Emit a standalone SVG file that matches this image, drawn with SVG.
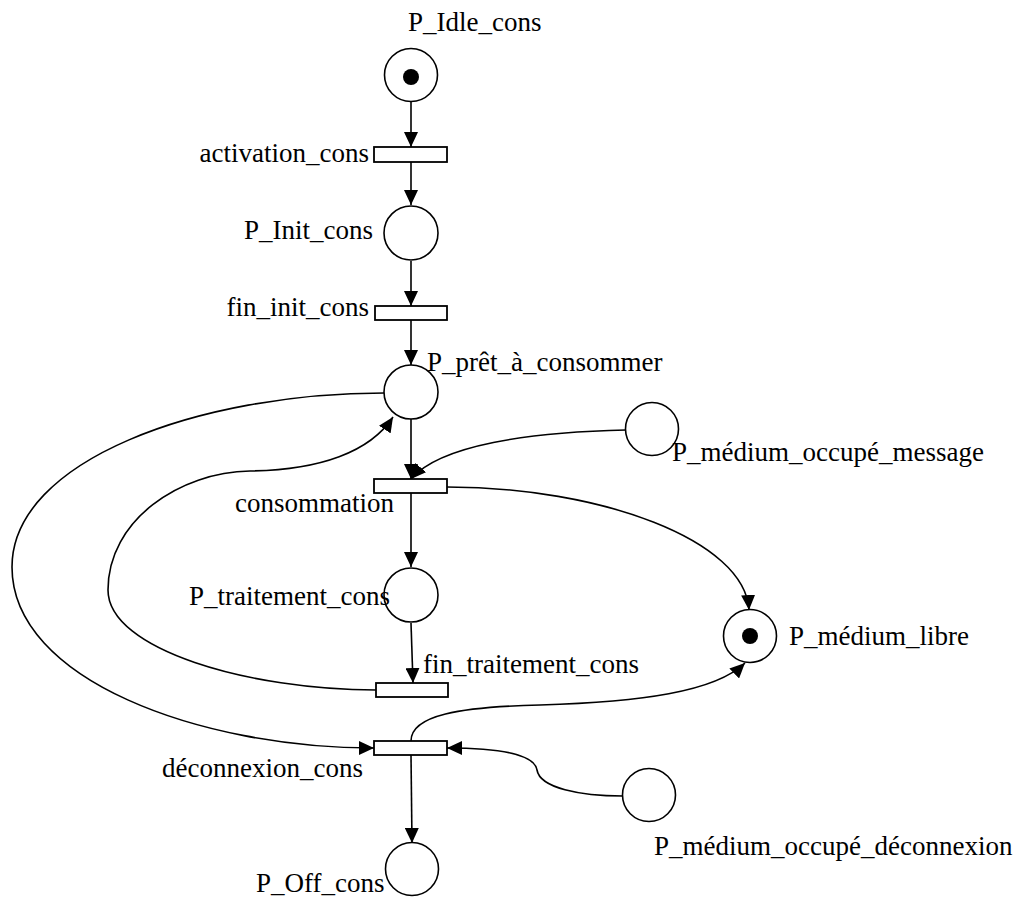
<svg xmlns="http://www.w3.org/2000/svg" width="1021" height="906" viewBox="0 0 1021 906">
  <style>
    .place { fill: #ffffff; stroke: #000000; stroke-width: 1.6; }
    .token { fill: #000000; }
    .trans { fill: #ffffff; stroke: #000000; stroke-width: 1.8; }
    .arc { fill: none; stroke: #000000; stroke-width: 1.6; }
    .arrow { marker-end: url(#head); }
    .label { font-family: "Liberation Serif", "DejaVu Serif", "Times New Roman", serif; font-size: 27px; fill: #000000; }
  </style>
  <defs>
    <marker id="head" markerUnits="userSpaceOnUse" markerWidth="16" markerHeight="14" refX="15" refY="7" orient="auto">
      <path d="M0,0 L15,7 L0,14 Z" fill="#000000"/>
    </marker>
  </defs>

  <rect width="1021" height="906" fill="#ffffff"/>

  <!-- arcs between places and transitions -->
  <g id="connectors">
    <line class="arc arrow" x1="411" y1="101" x2="411" y2="147"/>
    <line class="arc arrow" x1="411" y1="162" x2="411" y2="205"/>
    <line class="arc arrow" x1="411" y1="261" x2="411" y2="306"/>
    <line class="arc arrow" x1="411" y1="320" x2="411" y2="365"/>
    <line class="arc arrow" x1="411" y1="419" x2="411" y2="479"/>
    <line class="arc arrow" x1="411" y1="493" x2="411" y2="567"/>
    <line class="arc arrow" x1="411" y1="623" x2="413" y2="683"/>
    <line class="arc arrow" x1="411" y1="755" x2="412" y2="843"/>
    <!-- P_prêt_à_consommer to déconnexion_cons -->
    <path class="arc arrow" d="M384,393 C200,393 12,460 12,567 C12,680 200,748 374,748"/>
    <!-- fin_traitement_cons back to P_prêt_à_consommer -->
    <path class="arc arrow" d="M376,690 C250,690 108,650 108,590 C108,520 180,472 250,471 C320,470 370,452 393,417"/>
    <!-- P_médium_occupé_message to consommation -->
    <path class="arc arrow" d="M626,430 C530,432 440,445 411,479"/>
    <!-- consommation to P_médium_libre -->
    <path class="arc arrow" d="M447,487 C600,487 745,540 749,610"/>
    <!-- déconnexion_cons to P_médium_libre -->
    <path class="arc arrow" d="M411,741 C411,715 460,707 540,705 C640,702 715,692 745,663"/>
    <!-- P_médium_occupé_déconnexion to déconnexion_cons -->
    <path class="arc arrow" d="M623,796 C580,796 540,788 537,770 C534,752 490,748 447,748"/>
  </g>

  <g id="P_Idle_cons">
    <circle class="place" cx="411" cy="75" r="26.5"/>
    <circle class="token" cx="411" cy="77" r="8"/>
    <text class="label" font-family="Liberation Serif, serif" x="408" y="31">P_Idle_cons</text>
  </g>
  <g id="activation_cons">
    <rect class="trans" x="374" y="147" width="73" height="15"/>
    <text class="label" font-family="Liberation Serif, serif" x="369" y="162" text-anchor="end">activation_cons</text>
  </g>
  <g id="P_Init_cons">
    <circle class="place" cx="411" cy="233" r="27"/>
    <text class="label" font-family="Liberation Serif, serif" x="373" y="239" text-anchor="end">P_Init_cons</text>
  </g>
  <g id="fin_init_cons">
    <rect class="trans" x="375" y="306" width="72" height="14"/>
    <text class="label" font-family="Liberation Serif, serif" x="369" y="316" text-anchor="end">fin_init_cons</text>
  </g>
  <g id="P_pret_a_consommer">
    <circle class="place" cx="411" cy="392" r="27"/>
    <text class="label" font-family="Liberation Serif, serif" x="427" y="371">P_prêt_à_consommer</text>
  </g>
  <g id="P_medium_occupe_message">
    <circle class="place" cx="652" cy="429" r="26.5"/>
    <text class="label" font-family="Liberation Serif, serif" x="672" y="461">P_médium_occupé_message</text>
  </g>
  <g id="consommation">
    <rect class="trans" x="374" y="479" width="73" height="14"/>
    <text class="label" font-family="Liberation Serif, serif" x="235" y="512">consommation</text>
  </g>
  <g id="P_traitement_cons">
    <circle class="place" cx="411" cy="595" r="27"/>
    <text class="label" font-family="Liberation Serif, serif" x="189" y="605">P_traitement_cons</text>
  </g>
  <g id="P_medium_libre">
    <circle class="place" cx="750" cy="636" r="26.5"/>
    <circle class="token" cx="750" cy="636" r="8"/>
    <text class="label" font-family="Liberation Serif, serif" x="789" y="645">P_médium_libre</text>
  </g>
  <g id="fin_traitement_cons">
    <rect class="trans" x="376" y="683" width="72" height="14"/>
    <text class="label" font-family="Liberation Serif, serif" x="423" y="673">fin_traitement_cons</text>
  </g>
  <g id="deconnexion_cons">
    <rect class="trans" x="374" y="741" width="73" height="14"/>
    <text class="label" font-family="Liberation Serif, serif" x="162" y="777">déconnexion_cons</text>
  </g>
  <g id="P_medium_occupe_deconnexion">
    <circle class="place" cx="649" cy="795" r="26.5"/>
    <text class="label" font-family="Liberation Serif, serif" x="654" y="855">P_médium_occupé_déconnexion</text>
  </g>
  <g id="P_Off_cons">
    <circle class="place" cx="412" cy="869" r="26.5"/>
    <text class="label" font-family="Liberation Serif, serif" x="256" y="892">P_Off_cons</text>
  </g>
</svg>
